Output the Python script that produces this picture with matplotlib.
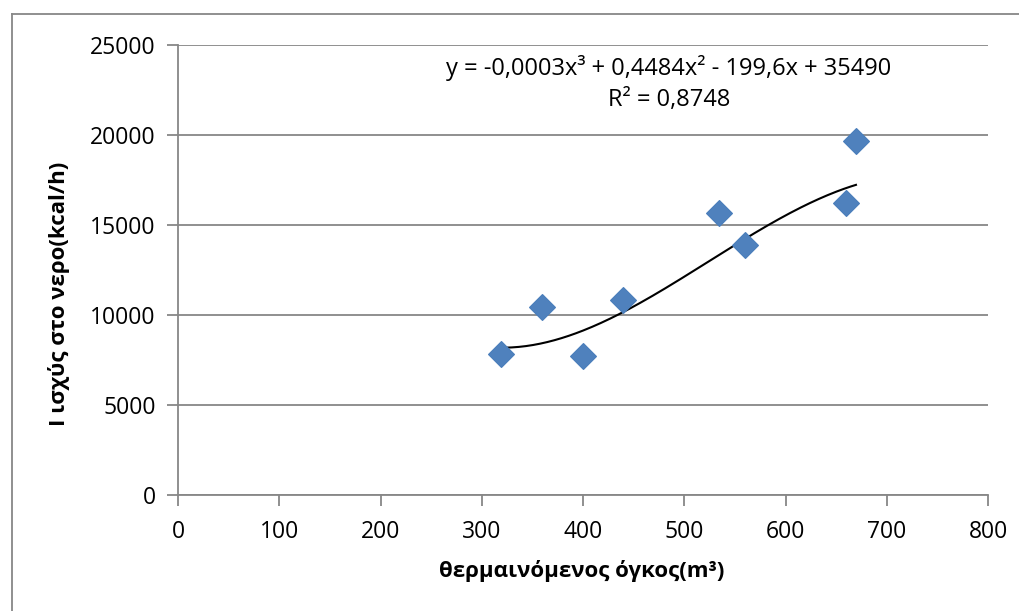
import numpy as np
import matplotlib.pyplot as plt
from matplotlib.lines import Line2D

# volume (m3) vs heating power to water (kcal/h)
volume = [319, 359.5, 399.7, 439.8, 534.6, 560, 659.8, 669.6]
power = [7833, 10426, 7741, 10833, 15685, 13870, 16204, 19667]

# cubic trendline coefficients as shown in the label
# (x^3 term shown rounded to -0,0003)
trend_coef = [-0.0002853, 0.4484, -199.6, 35490]

x_ticks = [0, 100, 200, 300, 400, 500, 600, 700, 800]
y_ticks = [0, 5000, 10000, 15000, 20000, 25000]

eq_line = "y = -0,0003x³ + 0,4484x² - 199,6x + 35490"
r2_line = "R² = 0,8748"

plt.rcParams['font.family'] = ['Open Sans', 'DejaVu Sans']
grid_col = "#878787"

fig = plt.figure(figsize=(10.19, 6.11), dpi=100)
ax = fig.add_axes([178 / 1019, 1 - 495 / 611, 810 / 1019, 450 / 611])

xs = np.linspace(min(volume), max(volume), 200)
ax.plot(xs, np.polyval(trend_coef, xs), color="black", lw=1.5, zorder=3)

ax.plot(volume, power, linestyle="none", marker="D", ms=13,
        color="#4F81BD", mec="#4A7EBB", mew=0.8, zorder=4)

ax.set_xlim(0, 800)
ax.set_ylim(0, 25000)
ax.set_xticks(x_ticks)
ax.set_yticks(y_ticks)
ax.tick_params(labelsize=16.5, length=8, width=1.3, color=grid_col)
ax.tick_params(axis="x", pad=10)
ax.tick_params(axis="y", pad=8)
ax.grid(axis="y", color=grid_col, lw=1.3)
ax.set_axisbelow(True)
for side in ["top", "right"]:
    ax.spines[side].set_visible(False)
for side in ["left", "bottom"]:
    ax.spines[side].set_color(grid_col)
    ax.spines[side].set_linewidth(1.3)

fig.text(582 / 1019, 1 - 571 / 611, "θερμαινόμενος όγκος(m³)", fontsize=16,
         fontweight="bold", ha="center", va="center")
fig.text(59 / 1019, 1 - 294 / 611, "Ι ισχύς στο νερο(kcal/h)", fontsize=16,
         fontweight="bold", ha="center", va="center", rotation=90)

# trendline label, placed in data units
ax.text(485, 23720, eq_line, ha="center", va="center", fontsize=17)
ax.text(485, 21940, r2_line, ha="center", va="center", fontsize=17)

# outer chart frame (only left and top edges fall inside the image)
fig.add_artist(Line2D([12 / 1019, 12 / 1019], [0, 1 - 14 / 611], color=grid_col, lw=1.3))
fig.add_artist(Line2D([12 / 1019, 1], [1 - 14 / 611, 1 - 14 / 611], color=grid_col, lw=1.3))

fig.savefig("out.png", dpi=100)
